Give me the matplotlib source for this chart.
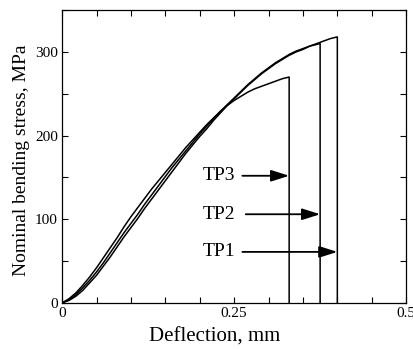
import matplotlib
matplotlib.use("Agg")
import matplotlib.pyplot as plt
from matplotlib.ticker import MultipleLocator, FixedLocator

plt.rcParams['font.family'] = ['Liberation Serif', 'DejaVu Serif']

# Data (deflection mm, stress MPa)
tp1_x = [0, 0.01, 0.02, 0.03, 0.04, 0.05, 0.06, 0.07, 0.08, 0.09, 0.10, 0.11, 0.12, 0.13, 0.14, 0.15,
         0.16, 0.17, 0.18, 0.19, 0.20, 0.21, 0.22, 0.23, 0.24, 0.25, 0.26, 0.27, 0.28, 0.29, 0.30,
         0.31, 0.32, 0.33, 0.34, 0.35, 0.36, 0.37, 0.38, 0.39, 0.40, 0.40]
tp1_y = [0, 3, 8, 15, 24, 33, 44, 55, 67, 79, 90, 101, 113, 124, 135, 146,
         157, 168, 179, 189, 199, 208, 218, 227, 236, 244, 252, 260, 267, 274, 280,
         286, 291, 296, 300, 303, 307, 310, 313, 316, 318, 0]
tp2_x = [0, 0.01, 0.02, 0.03, 0.04, 0.05, 0.06, 0.07, 0.08, 0.09, 0.10, 0.11, 0.12, 0.13, 0.14, 0.15,
         0.16, 0.17, 0.18, 0.19, 0.20, 0.21, 0.22, 0.23, 0.24, 0.25, 0.26, 0.27, 0.28, 0.29, 0.30,
         0.31, 0.32, 0.33, 0.34, 0.35, 0.36, 0.37, 0.375, 0.375]
tp2_y = [0, 4, 10, 18, 27, 37, 48, 60, 72, 84, 95, 106, 118, 129, 140, 151,
         162, 172, 182, 192, 202, 211, 220, 229, 237, 245, 253, 261, 268, 275, 281,
         287, 292, 297, 301, 304, 307, 309, 310, 0]
tp3_x = [0, 0.01, 0.02, 0.03, 0.04, 0.05, 0.06, 0.07, 0.08, 0.09, 0.10, 0.11, 0.12, 0.13, 0.14, 0.15,
         0.16, 0.17, 0.18, 0.19, 0.20, 0.21, 0.22, 0.23, 0.24, 0.25, 0.26, 0.27, 0.28, 0.29, 0.30,
         0.31, 0.32, 0.33, 0.33]
tp3_y = [0, 5, 12, 21, 31, 42, 54, 66, 78, 91, 103, 114, 125, 136, 146, 156,
         166, 176, 186, 195, 204, 213, 221, 229, 236, 242, 247, 252, 256, 259, 262,
         265, 268, 270, 0]

labels = ["TP3", "TP2", "TP1"]
label_x = [0.204, 0.204, 0.204]
label_y = [152, 106, 61]
arrow_start = [0.262, 0.267, 0.262]
arrow_end = [0.330, 0.375, 0.400]

fig = plt.figure(figsize=(4.14, 3.49), dpi=100)
ax = fig.add_axes([0.150, 0.132, 0.831, 0.839])

for xs, ys in [(tp1_x, tp1_y), (tp2_x, tp2_y), (tp3_x, tp3_y)]:
    ax.plot(xs, ys, color='black', lw=1.1)

for lab, lx, ly, xs, xe in zip(labels, label_x, label_y, arrow_start, arrow_end):
    ax.text(lx, ly, lab, fontsize=14, va='center', ha='left')
    ax.annotate('', xy=(xe, ly), xytext=(xs, ly),
                arrowprops=dict(arrowstyle='-|>,head_length=1.1,head_width=0.35',
                                color='black', lw=1.3, shrinkA=0, shrinkB=0))

ax.set_xlim(0, 0.5)
ax.set_ylim(0, 350)
ax.xaxis.set_major_locator(FixedLocator([0, 0.25, 0.5]))
ax.xaxis.set_minor_locator(MultipleLocator(0.05))
ax.yaxis.set_major_locator(FixedLocator([0, 100, 200, 300]))
ax.yaxis.set_minor_locator(MultipleLocator(50))
ax.set_xticklabels(['0', '0.25', '0.5'])
ax.tick_params(which='both', direction='in', top=True, right=True, labelsize=11, width=0.8)
ax.tick_params(which='major', length=4, pad=3)
ax.tick_params(which='minor', length=4)
for s in ax.spines.values():
    s.set_linewidth(0.9)

ax.set_xlabel('Deflection, mm', fontsize=15)
ax.xaxis.set_label_coords(0.442, -0.085)
ax.set_ylabel('Nominal bending stress, MPa', fontsize=14)
ax.yaxis.set_label_coords(-0.093, 0.488)

fig.savefig('out.png', dpi=100)
